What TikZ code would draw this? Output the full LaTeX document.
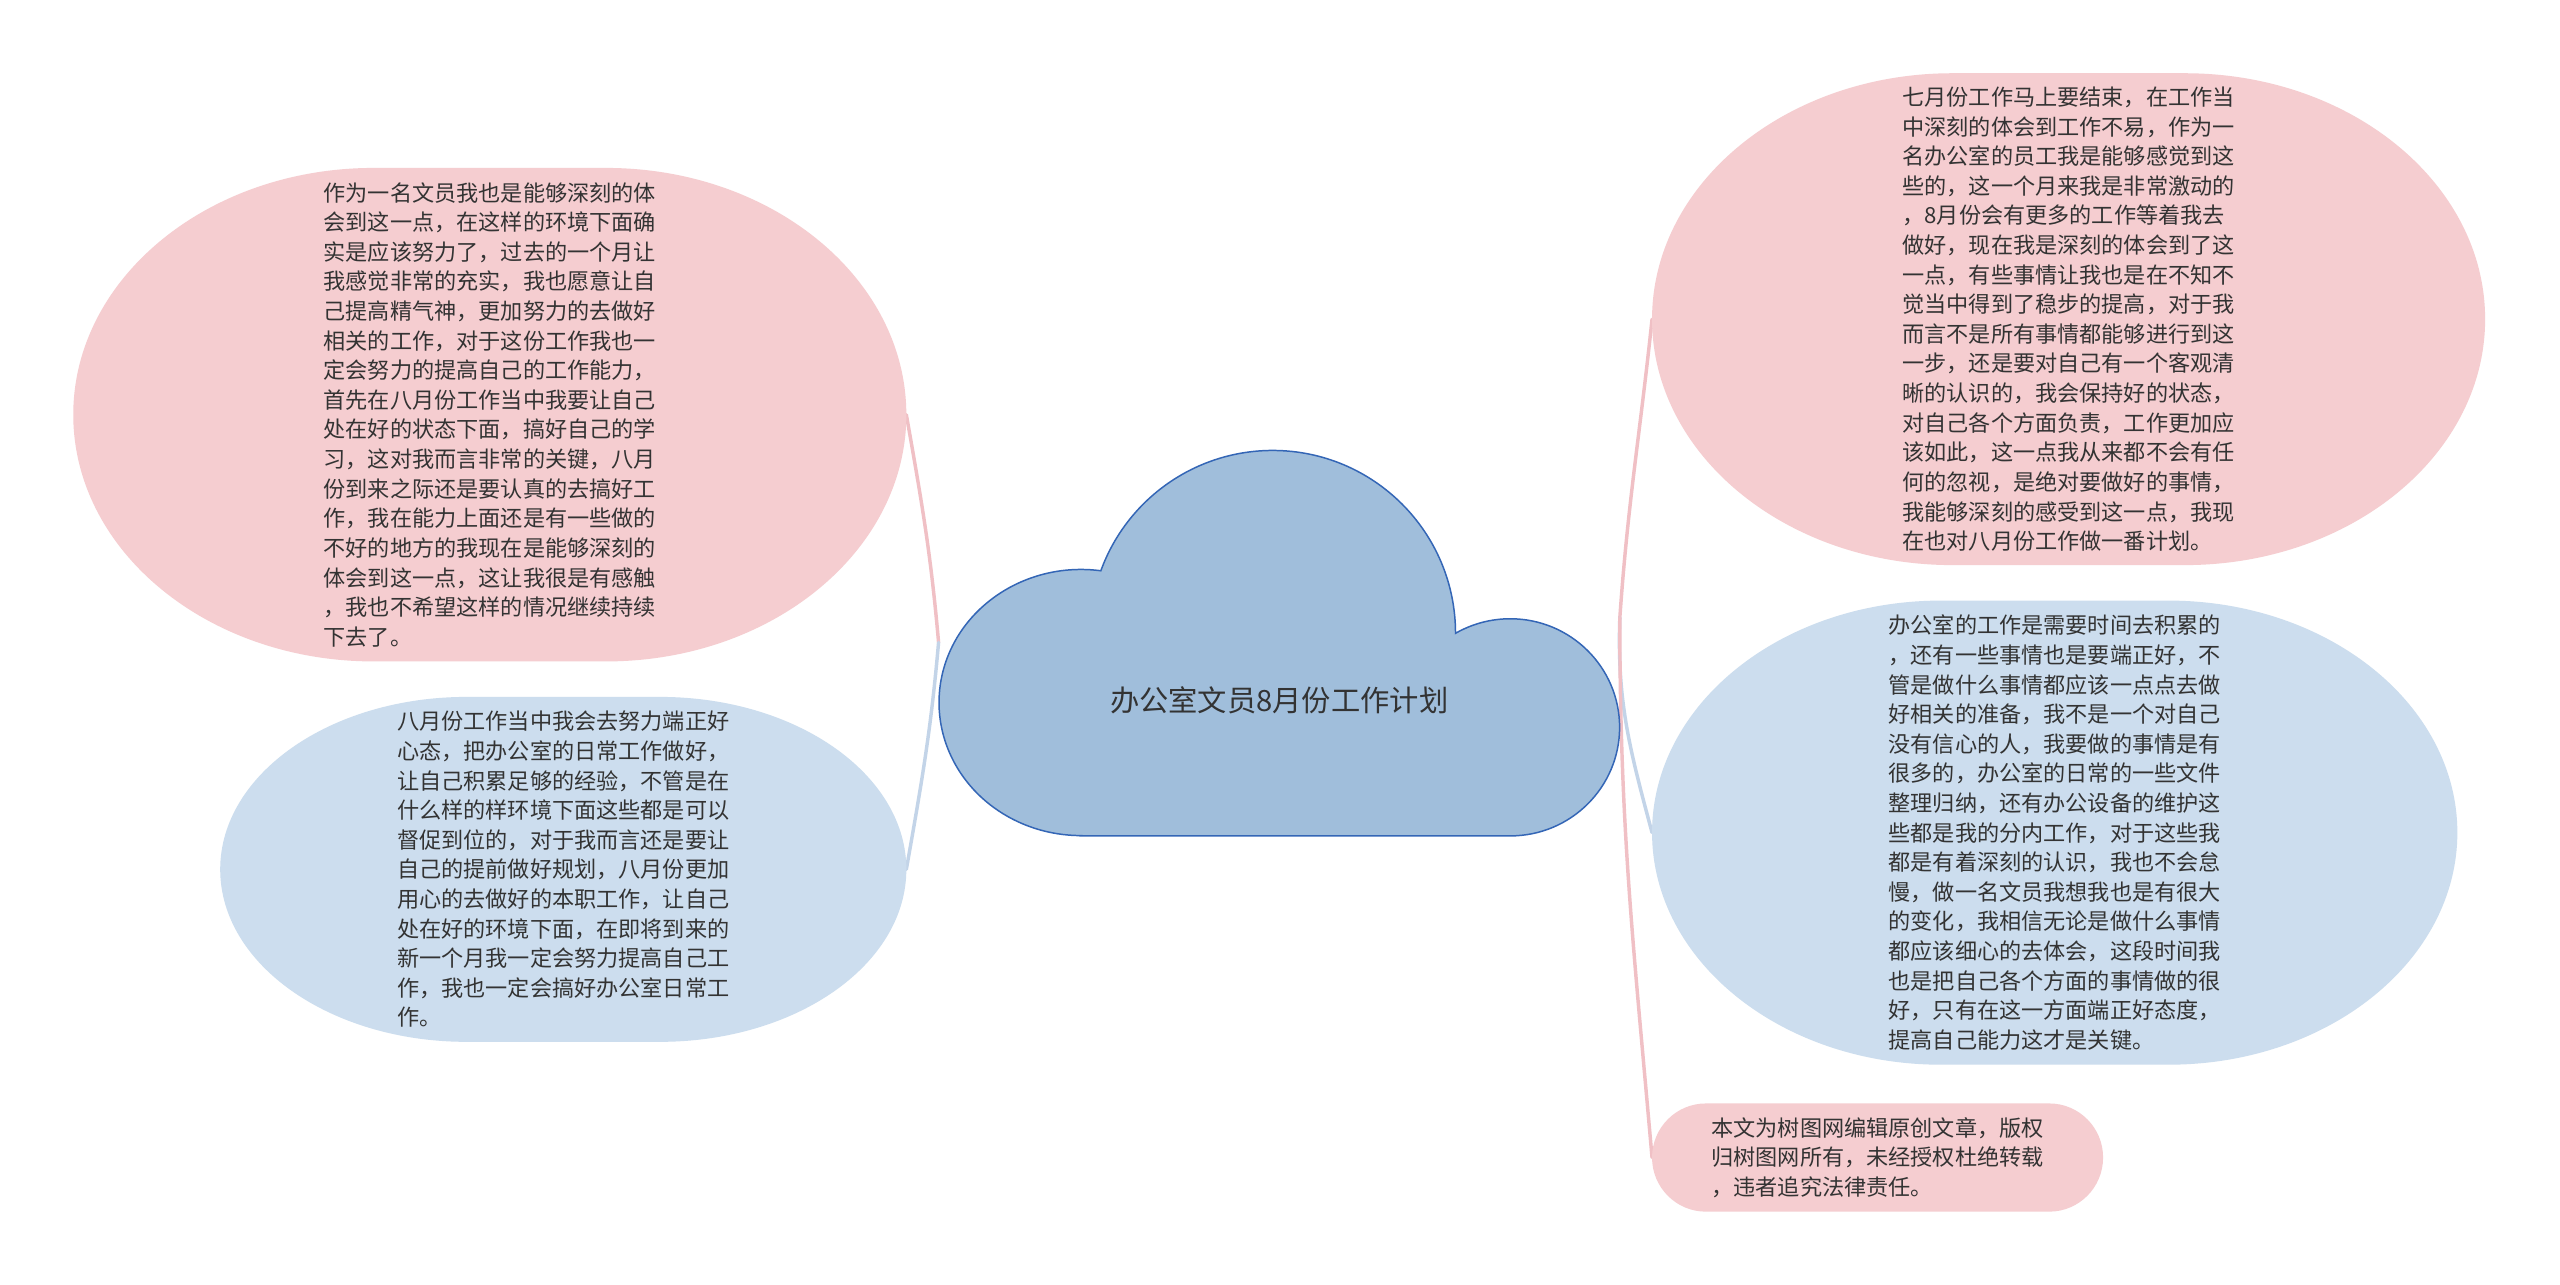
\documentclass[tikz,border=0pt]{standalone}
\usepackage{fontspec}
\setmainfont{Noto Sans CJK SC}
\usepackage{tikz}
\usetikzlibrary{positioning, calc, backgrounds}
\definecolor{notepink}{RGB}{245, 205, 208}
\definecolor{noteblue}{RGB}{204, 221, 238}
\definecolor{cloudfill}{RGB}{160, 190, 219}
\definecolor{cloudline}{RGB}{52, 102, 182}
\definecolor{linkpink}{RGB}{240, 192, 197}
\definecolor{linkblue}{RGB}{195, 212, 232}
\definecolor{inktext}{RGB}{51, 51, 51}

% soft rounded blob behind a note: node, colour, corner x radius
\newcommand{\noteblob}[3]{%
  \fill[#2] let \p1=(#1.south west), \p2=(#1.north east), \n1={0.5*(\y2-\y1)} in
    (\x1+#3,\y1) -- (\x2-#3,\y1)
    arc[start angle=-90, end angle=90, x radius=#3, y radius=\n1]
    -- (\x1+#3,\y2)
    arc[start angle=90, end angle=270, x radius=#3, y radius=\n1] -- cycle;}

\begin{document}
\begin{tikzpicture}[x=0.05cm, y=0.05cm,
    note/.style={align=left, inner sep=0pt, text=inktext, font=\fontsize{19.3}{25.8}\selectfont},
    link/.style={line width=3pt, line cap=round}]
    \useasboundingbox (0,0) rectangle (1568,787);

    % centre
    \node[minimum width=20.85cm, minimum height=11.85cm, inner sep=0pt] (plan) at (783.5,393.5) {};
    \node[text=inktext, font=\fontsize{25.5}{30}\selectfont] (title) at (783.5,358) {办公室文员8月份工作计划};

    % left side
    \node[note, minimum width=25.5cm, minimum height=15.1cm] (insight) at (300,533) {%
        作为一名文员我也是能够深刻的体\\会到这一点，在这样的环境下面确\\实是应该努力了，过去的一个月让\\我感觉非常的充实，我也愿意让自\\己提高精气神，更加努力的去做好\\相关的工作，对于这份工作我也一\\定会努力的提高自己的工作能力，\\首先在八月份工作当中我要让自己\\处在好的状态下面，搞好自己的学\\习，这对我而言非常的关键，八月\\份到来之际还是要认真的去搞好工\\作，我在能力上面还是有一些做的\\不好的地方的我现在是能够深刻的\\体会到这一点，这让我很是有感触\\，我也不希望这样的情况继续持续\\下去了。};
    \node[note, minimum width=21cm, minimum height=10.55cm] (attitude) at (345,254.5) {%
        八月份工作当中我会去努力端正好\\心态，把办公室的日常工作做好，\\让自己积累足够的经验，不管是在\\什么样的样环境下面这些都是可以\\督促到位的，对于我而言还是要让\\自己的提前做好规划，八月份更加\\用心的去做好的本职工作，让自己\\处在好的环境下面，在即将到来的\\新一个月我一定会努力提高自己工\\作，我也一定会搞好办公室日常工\\作。};

    % right side
    \node[note, minimum width=25.5cm, minimum height=15.05cm] (july) at (1267,591.5) {%
        七月份工作马上要结束，在工作当\\中深刻的体会到工作不易，作为一\\名办公室的员工我是能够感觉到这\\些的，这一个月来我是非常激动的\\，8月份会有更多的工作等着我去\\做好，现在我是深刻的体会到了这\\一点，有些事情让我也是在不知不\\觉当中得到了稳步的提高，对于我\\而言不是所有事情都能够进行到这\\一步，还是要对自己有一个客观清\\晰的认识的，我会保持好的状态，\\对自己各个方面负责，工作更加应\\该如此，这一点我从来都不会有任\\何的忽视，是绝对要做好的事情，\\我能够深刻的感受到这一点，我现\\在也对八月份工作做一番计划。};
    \node[note, minimum width=24.65cm, minimum height=14.2cm] (duty) at (1258.5,277) {%
        办公室的工作是需要时间去积累的\\，还有一些事情也是要端正好，不\\管是做什么事情都应该一点点去做\\好相关的准备，我不是一个对自己\\没有信心的人，我要做的事情是有\\很多的，办公室的日常的一些文件\\整理归纳，还有办公设备的维护这\\些都是我的分内工作，对于这些我\\都是有着深刻的认识，我也不会怠\\慢，做一名文员我想我也是有很大\\的变化，我相信无论是做什么事情\\都应该细心的去体会，这段时间我\\也是把自己各个方面的事情做的很\\好，只有在这一方面端正好态度，\\提高自己能力这才是关键。};
    \node[note, minimum width=13.8cm, minimum height=3.3cm] (notice) at (1150,78) {%
        本文为树图网编辑原创文章，版权\\归树图网所有，未经授权杜绝转载\\，违者追究法律责任。};

    \begin{scope}[on background layer]
        \fill[white] (0,0) rectangle (1568,787);
        \draw[link, linkpink] (plan.west) to[out=95, in=-80] (insight.east);
        \draw[link, linkblue] (plan.west) to[out=-95, in=80] (attitude.east);
        \draw[link, linkpink] ([yshift=0.75cm]plan.east) to[out=86, in=-96] (july.west);
        \draw[link, linkblue] ([yshift=0.75cm]plan.east) to[out=-92, in=105] (duty.west);
        \draw[link, linkpink] ([yshift=0.75cm]plan.east) to[out=-90, in=95] (notice.west);
        \noteblob{insight}{notepink}{9.2cm}
        \noteblob{attitude}{noteblue}{7.55cm}
        \noteblob{july}{notepink}{9.2cm}
        \noteblob{duty}{noteblue}{8.85cm}
        \noteblob{notice}{notepink}{1.65cm}
        % cloud outline
        \filldraw[fill=cloudfill, draw=cloudline, line width=1.3pt] (662,275) -- (925,275)
            arc[start angle=-90, end angle=120, x radius=67, y radius=66.5]
            arc[start angle=0, end angle=160, radius=112]
            arc[start angle=82, end angle=270, x radius=87, y radius=81.5] -- cycle;
    \end{scope}
\end{tikzpicture}
\end{document}
